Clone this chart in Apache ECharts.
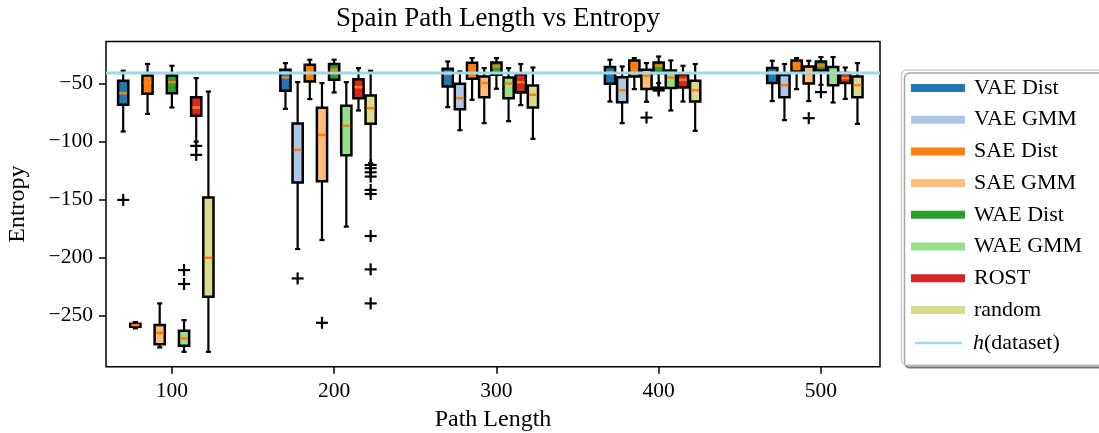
<!DOCTYPE html>
<html>
<head>
<meta charset="utf-8">
<script src="https://cdn.jsdelivr.net/npm/echarts@6/dist/echarts.min.js"></script>
<style>
  html, body { margin: 0; padding: 0; background: #fff; }
  #chart { width: 1099px; height: 433px; }
</style>
</head>
<body>
<div id="chart"></div>
<script>
// path lengths on the x axis and offsets of each method inside a group
const pathLengths = [100, 200, 300, 400, 500];
const methods = ['VAE Dist', 'VAE GMM', 'SAE Dist', 'SAE GMM', 'WAE Dist', 'WAE GMM', 'ROST', 'random'];
const colors = ['#1f77b4', '#aec7e8', '#ff7f0e', '#ffbb78', '#2ca02c', '#98df8a', '#d62728', '#dbdb8d'];
const offsets = [-30, -22.5, -15, -7.5, 0, 7.5, 15, 22.5];
const yTicks = [-250, -200, -150, -100, -50];
const hDataset = -41.2;

// [whisker low, q1, median, q3, whisker high] per path length
const vaeDist = [[-91.5, -68.5, -58.5, -47.8, -39.2], [-72, -56.5, -45, -38.4, -32.6], [-70.5, -52.7, -42.1, -37.5, -31.2], [-65.7, -50.4, -40.7, -36, -29.7], [-65.3, -49.8, -40.7, -36.9, -30.6]];
const vaeGmm = [[-261, -259.6, -258.2, -257, -255.6], [-192.7, -135.5, -107.3, -84.7, -49], [-90.4, -72.3, -62.8, -50.4, -39.8], [-84.3, -66.2, -55.9, -44.7, -35.5], [-81.7, -61.9, -51.6, -42.9, -33.4]];
const saeDist = [[-76.3, -59, -49.3, -43.3, -33.4], [-63.6, -48.4, -40.1, -34, -29.7], [-64.2, -46.1, -36.9, -32.3, -28.3], [-55, -44.1, -34.9, -30.3, -28.3], [-55, -39.8, -33.2, -30.3, -28.3]];
const saeGmm = [[-277.4, -274.6, -264.8, -258.2, -239.5], [-184.9, -134.3, -94.4, -71.1, -49.8], [-84.3, -61.9, -49.8, -44.1, -36.9], [-65.9, -55, -43.5, -38.4, -32.6], [-65.3, -50.2, -41.6, -35.5, -30.6]];
const waeDist = [[-70.8, -58.5, -49, -43.3, -34.9], [-57.9, -47, -38.4, -33.4, -29.7], [-54.7, -42.7, -35.5, -32.1, -28.3], [-49.8, -41.2, -34.9, -32.1, -26.9], [-51.3, -39, -34.7, -31.2, -27.4]];
const waeGmm = [[-281.2, -276, -269.7, -263.1, -253.9], [-173.4, -111.9, -86.6, -69.4, -49], [-82.6, -62.8, -50.2, -45, -36.9], [-73.4, -54.1, -45, -39, -30.3], [-66.5, -51.6, -41.6, -36, -27.4]];
const rost = [[-100.2, -78, -70.8, -61.9, -45.5], [-73.4, -62.8, -53.3, -46.4, -36.9], [-68.8, -57.9, -49, -42.1, -33.4], [-65.7, -53.6, -47, -42.1, -34.9], [-63.4, -49.8, -45.5, -41.2, -36.4]];
const random = [[-281.2, -233.8, -200.2, -148.4, -57.1], [-118.8, -84.8, -71.4, -60.5, -39.2], [-97.8, -70.8, -59.9, -51.9, -36.4], [-90.9, -65.7, -55.9, -47.8, -33.4], [-84.9, -61.9, -51.6, -44.1, -32.6]];
const boxStats = [vaeDist, vaeGmm, saeDist, saeGmm, waeDist, waeGmm, rost, random];

// outliers: [method index, path length, value]
const outliers = [
  [0, 100, -150.4],
  [5, 100, -210.8], [5, 100, -222.8],
  [6, 100, -103.9], [6, 100, -111.6],
  [1, 200, -218],
  [3, 200, -256.2],
  [7, 200, -120.3], [7, 200, -123.1], [7, 200, -126.6], [7, 200, -130.3], [7, 200, -141.8],
  [7, 200, -145.3], [7, 200, -181.5], [7, 200, -210.2], [7, 200, -239.5],
  [3, 400, -79.5],
  [4, 400, -53.6], [4, 400, -55], [4, 400, -56.2],
  [3, 500, -80],
  [4, 500, -57.6]
];

const boxWidth = 6.3;
const fontFamily = 'Liberation Serif';

function renderBox(params, api) {
  const x = api.value(0);
  const lo = api.coord([x, api.value(1)]);
  const q1 = api.coord([x, api.value(2)]);
  const md = api.coord([x, api.value(3)]);
  const q3 = api.coord([x, api.value(4)]);
  const hi = api.coord([x, api.value(5)]);
  const w = api.size([boxWidth, 0])[0];
  const cx = lo[0];
  const black = { stroke: '#000', lineWidth: 2.2 };
  return {
    type: 'group',
    children: [
      { type: 'line', shape: { x1: cx, y1: hi[1], x2: cx, y2: q3[1] }, style: black },
      { type: 'line', shape: { x1: cx, y1: q1[1], x2: cx, y2: lo[1] }, style: black },
      { type: 'line', shape: { x1: cx - w / 4, y1: hi[1], x2: cx + w / 4, y2: hi[1] }, style: black },
      { type: 'line', shape: { x1: cx - w / 4, y1: lo[1], x2: cx + w / 4, y2: lo[1] }, style: black },
      { type: 'rect', shape: { x: cx - w / 2, y: q3[1], width: w, height: q1[1] - q3[1] },
        style: { fill: api.visual('color'), stroke: '#000', lineWidth: 2.5 } },
      { type: 'line', shape: { x1: cx - w / 2 + 1.2, y1: md[1], x2: cx + w / 2 - 1.2, y2: md[1] },
        style: { stroke: '#ff7f0e', lineWidth: 2.5 } }
    ]
  };
}

function renderCross(params, api) {
  const pt = api.coord([api.value(0), api.value(1)]);
  const s = 6;
  const st = { stroke: '#000', lineWidth: 2.2 };
  return {
    type: 'group',
    children: [
      { type: 'line', shape: { x1: pt[0] - s, y1: pt[1], x2: pt[0] + s, y2: pt[1] }, style: st },
      { type: 'line', shape: { x1: pt[0], y1: pt[1] - s, x2: pt[0], y2: pt[1] + s }, style: st }
    ]
  };
}

const series = methods.map(function (name, i) {
  return {
    name: name,
    type: 'custom',
    renderItem: renderBox,
    itemStyle: { color: colors[i] },
    encode: { x: 0, y: [1, 2, 3, 4, 5] },
    data: boxStats[i].map(function (s, j) { return [pathLengths[j] + offsets[i]].concat(s); }),
    z: 2
  };
});

series.push({
  type: 'custom',
  renderItem: renderCross,
  encode: { x: 0, y: 1 },
  data: outliers.map(function (o) { return [o[1] + offsets[o[0]], o[2]]; }),
  z: 2
});

series.push({
  name: 'h(dataset)',
  type: 'line',
  showSymbol: false,
  symbol: 'none',
  color: '#9edae5',
  lineStyle: { color: '#9edae5', width: 3 },
  data: [[59.4, hDataset], [536.4, hDataset]],
  z: 3,
  silent: true
});

const chart = echarts.init(document.getElementById('chart'));
chart.setOption({
  animation: false,
  backgroundColor: '#fff',
  textStyle: { fontFamily: fontFamily },
  title: {
    text: 'Spain Path Length vs Entropy',
    left: 493,
    textAlign: 'center',
    top: 0,
    textStyle: { fontFamily: fontFamily, fontSize: 27, fontWeight: 'normal', color: '#000' }
  },
  grid: {
    left: 106, right: 219, top: 41.5, bottom: 66.3,
    outerBoundsMode: 'none',
    containLabel: false,
    show: true, borderColor: '#000', borderWidth: 1.5, backgroundColor: 'transparent'
  },
  graphic: [{
    type: 'rect',
    shape: { x: 901.5, y: 70, width: 240, height: 295, r: 5 },
    style: { fill: '#fff', stroke: '#cccccc', lineWidth: 1.5, shadowColor: 'rgba(0,0,0,0.35)', shadowOffsetX: 3, shadowOffsetY: 3, shadowBlur: 0 },
    z: 0
  }],
  legend: [{
    data: methods.map(function (m) { return { name: m, icon: 'rect' }; }),
    orient: 'vertical',
    left: 906,
    top: 72,
    itemWidth: 54,
    itemHeight: 8,
    itemGap: 9.7,
    textStyle: { fontFamily: fontFamily, fontSize: 22, lineHeight: 22, color: '#000', padding: [0, 0, 0, 4] }
  }, {
    data: [{ name: 'h(dataset)', icon: 'rect' }],
    orient: 'vertical',
    left: 910,
    top: 327,
    itemWidth: 47,
    itemHeight: 2.5,
    formatter: function () { return '{i|h}(dataset)'; },
    textStyle: {
      fontFamily: fontFamily, fontSize: 22, lineHeight: 22, color: '#000', padding: [0, 0, 0, 6],
      rich: { i: { fontFamily: fontFamily, fontSize: 22, fontStyle: 'italic', color: '#000' } }
    }
  }],
  xAxis: {
    type: 'value',
    min: 59.4,
    max: 536.4,
    name: 'Path Length',
    nameLocation: 'middle',
    nameGap: 40,
    nameTextStyle: { fontFamily: fontFamily, fontSize: 24, color: '#000' },
    axisLine: { show: false },
    axisTick: { show: true, length: 7, lineStyle: { color: '#000', width: 1.5 }, customValues: pathLengths },
    axisLabel: { fontFamily: fontFamily, fontSize: 21.5, color: '#000', margin: 14, customValues: pathLengths },
    splitLine: { show: false }
  },
  yAxis: {
    type: 'value',
    min: -294,
    max: -14,
    name: 'Entropy',
    nameLocation: 'middle',
    nameGap: 76,
    nameTextStyle: { fontFamily: fontFamily, fontSize: 24, color: '#000' },
    axisLine: { show: false },
    axisTick: { show: true, length: 7, lineStyle: { color: '#000', width: 1.5 }, customValues: yTicks },
    axisLabel: {
      fontFamily: fontFamily, fontSize: 21.5, color: '#000', margin: 13, customValues: yTicks,
      formatter: function (v) { return String(v).replace('-', '\u2212'); }
    },
    splitLine: { show: false }
  },
  series: series
});
</script>
</body>
</html>
